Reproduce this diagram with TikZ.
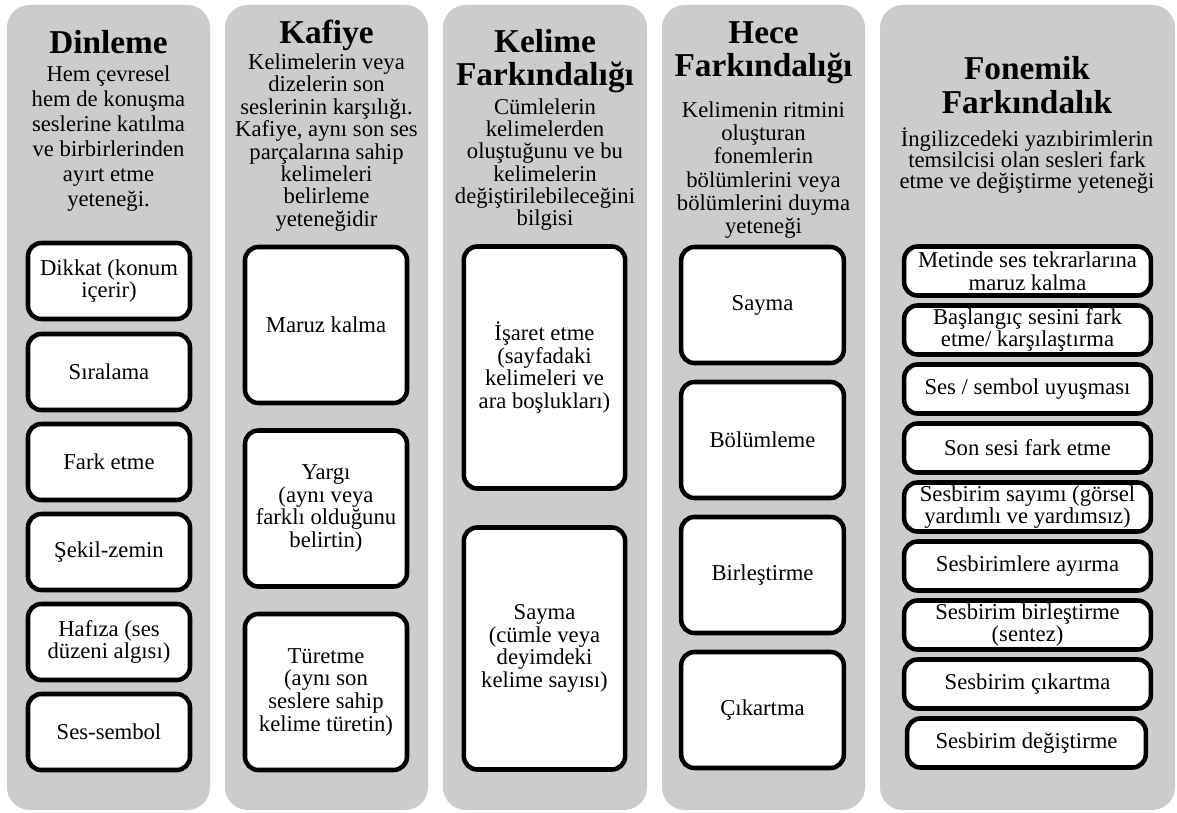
\documentclass[tikz,border=0pt]{standalone}
\usepackage{fontspec}
\setmainfont{LiberationSerif}[Extension=.ttf, UprightFont=*-Regular, BoldFont=*-Bold, ItalicFont=*-Italic, BoldItalicFont=*-BoldItalic]
\definecolor{panelgray}{RGB}{204,204,204}
\tikzset{
  column/.style={fill=panelgray, rounded corners=17pt},
  item/.style={draw, line width=3.4pt, fill=white, rounded corners=10pt, align=center,
    inner xsep=2pt, inner ysep=0pt, font=\fontsize{17}{17}\selectfont},
  heading/.style={font=\fontsize{25}{25}\selectfont\bfseries, align=center, inner sep=0pt},
  blurb/.style={font=\fontsize{17}{#1}\selectfont, align=center, inner sep=0pt},
}
\begin{document}
\begin{tikzpicture}[x=0.75pt, y=-0.75pt]
\useasboundingbox (0,0) rectangle (1177,813);
% gray columns
\fill[column] (7,5) rectangle (210,810);
\fill[column] (225,5) rectangle (428,810);
\fill[column] (443,5) rectangle (647,810);
\fill[column] (662,5) rectangle (865,810);
\fill[column] (880,5) rectangle (1175,810);

% Dinleme
\node[heading] (dinTitle) at (108.5,42) {Dinleme};
\node[blurb=18.75pt] (dinText) at (108.5,139) {Hem çevresel\\hem de konuşma\\seslerine katılma\\ve birbirlerinden\\ayırt etme\\yeteneği.};
\begin{scope}[every node/.append style={minimum width=121.5pt, minimum height=57pt}]
\node[item] (dikkat) at (109,281) {Dikkat (konum\\içerir)};
\node[item] (siralama) at (109,372) {Sıralama};
\node[item] (fark) at (109,462) {Fark etme};
\node[item] (sekil) at (109,552) {Şekil-zemin};
\node[item] (hafiza) at (109,642) {Hafıza (ses\\düzeni algısı)};
\node[item] (sessembol) at (109,732) {Ses-sembol};
\end{scope}

% Kafiye
\node[heading] (kafTitle) at (326.5,35) {Kafiye};
\node[blurb=16.8pt] (kafText) at (326.5,142.5) {Kelimelerin veya\\dizelerin son\\seslerinin karşılığı.\\Kafiye, aynı son ses\\parçalarına sahip\\kelimeleri\\belirleme\\yeteneğidir};
\begin{scope}[every node/.append style={minimum width=121.5pt, minimum height=117pt}]
\node[item] (maruz) at (326,325) {Maruz kalma};
\node[item] (yargi) at (326,508.5) {Yargı\\(aynı veya\\farklı olduğunu\\belirtin)};
\node[item] (turetme) at (326,692) {Türetme\\(aynı son\\seslere sahip\\kelime türetin)};
\end{scope}

% Kelime Farkındalığı
\node[heading] (kelTitle) at (545,61) {Kelime\\Farkındalığı};
\node[blurb=16.7pt] (kelText) at (545,164.5) {Cümlelerin\\kelimelerden\\oluştuğunu ve bu\\kelimelerin\\değiştirilebileceğini\\bilgisi};
\begin{scope}[every node/.append style={minimum width=121pt, minimum height=181.5pt}]
\node[item] (isaret) at (544.5,367.5) {İşaret etme\\(sayfadaki\\kelimeleri ve\\ara boşlukları)};
\node[item] (kelsayma) at (544.5,648.5) {Sayma\\(cümle veya\\deyimdeki\\kelime sayısı)};
\end{scope}

% Hece Farkındalığı
\node[heading] (heceTitle) at (763.5,53) {Hece\\Farkındalığı};
\node[blurb=17.5pt] (heceText) at (763.5,170) {Kelimenin ritmini\\oluşturan\\fonemlerin\\bölümlerini veya\\bölümlerini duyma\\yeteneği};
\begin{scope}[every node/.append style={minimum width=122pt, minimum height=87pt}]
\node[item] (hecesayma) at (762.5,305) {Sayma};
\node[item] (bolumleme) at (762.5,440) {Bölümleme};
\node[item] (birlestirme) at (762.5,575) {Birleştirme};
\node[item] (cikartma) at (762.5,710) {Çıkartma};
\end{scope}

% Fonemik Farkındalık
\node[heading] (fonTitle) at (1027,85) {Fonemik\\Farkındalık};
\node[blurb=15.75pt] (fonText) at (1027,161) {İngilizcedeki yazıbirimlerin\\temsilcisi olan sesleri fark\\etme ve değiştirme yeteneği};
\begin{scope}[every node/.append style={minimum width=185pt, minimum height=36.75pt}]
\node[item] (metinde) at (1027.5,271) {Metinde ses tekrarlarına\\maruz kalma};
\node[item] (baslangic) at (1027.5,330) {Başlangıç sesini fark\\etme/ karşılaştırma};
\node[item] (uyusma) at (1027.5,389) {Ses / sembol uyuşması};
\node[item] (sonses) at (1027.5,448) {Son sesi fark etme};
\node[item] (sayim) at (1027.5,507) {Sesbirim sayımı (görsel\\yardımlı ve yardımsız)};
\node[item] (ayirma) at (1027.5,566) {Sesbirimlere ayırma};
\node[item] (sentez) at (1027.5,625) {Sesbirim birleştirme\\(sentez)};
\node[item] (fcikartma) at (1027.5,684) {Sesbirim çıkartma};
\node[item, minimum width=179pt] (degistirme) at (1026.5,743) {Sesbirim değiştirme};
\end{scope}
\end{tikzpicture}
\end{document}
